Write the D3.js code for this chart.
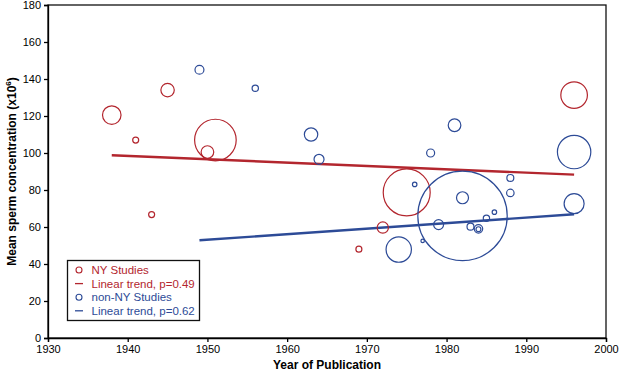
<!DOCTYPE html>
<html lang="en">
<head>
<meta charset="utf-8">
<title>Sperm concentration by year</title>
<script src="https://cdn.jsdelivr.net/npm/d3@7"></script>
<style>
    body { margin: 0; background: #fff; }
    svg { font-family: "Liberation Sans", Arial, sans-serif; }
    .axis text { font-size: 11px; fill: #000; }
    .axis path, .axis line { stroke: #000; stroke-width: 1.3; }
    .lbl { font-size: 12px; font-weight: bold; }
    .leg { font-size: 11.5px; }
</style>
</head>
<body>
<div id="chart"></div>
<script>
    // NY studies: year, mean concentration, relative study size
    var nyYears  = [1938, 1941, 1943, 1945, 1950, 1951, 1969, 1972, 1975, 1996];
    var nyValues = [120.5, 107, 66.7, 134, 100.5, 107, 48, 59.7, 78.7, 131.3];
    var nySizes  = [86, 9, 9, 45, 40, 433, 9, 32, 552, 177];

    // non-NY studies
    var otherYears  = [1949, 1956, 1963, 1964, 1974, 1976, 1977, 1978, 1979, 1981, 1982, 1982,
                       1983, 1984, 1984, 1985, 1986, 1988, 1988, 1996, 1996];
    var otherValues = [145, 135, 110, 96.6, 47.8, 83, 52.5, 100, 61.3, 115, 75.8, 66,
                       60.2, 59, 58.8, 64.7, 68, 78.4, 86.5, 100.5, 72.6];
    var otherSizes  = [20, 10, 45, 25, 161, 5, 3, 16, 25, 40, 36, 2000,
                       12, 18, 6, 10, 5, 14, 12, 279, 100];

    // linear trend end points
    var nyTrend = [[1938, 98.8], [1996, 88.3]];
    var otherTrend = [[1949, 52.8], [1996, 66.9]];

    var xTicks = [1930, 1940, 1950, 1960, 1970, 1980, 1990, 2000];
    var yTicks = [0, 20, 40, 60, 80, 100, 120, 140, 160, 180];

    var red = "#b3262e", blue = "#2d4b97";

    var W = 619, H = 374;
    var margin = {left: 48, right: 13, top: 5, bottom: 36};
    var w = W - margin.left - margin.right;
    var h = H - margin.top - margin.bottom;

    var svg = d3.select("#chart").append("svg")
        .attr("width", W).attr("height", H);
    var g = svg.append("g")
        .attr("transform", "translate(" + margin.left + "," + margin.top + ")");

    var x = d3.scaleLinear().domain([1930, 2000]).range([0, w]);
    var y = d3.scaleLinear().domain([0, 180]).range([h, 0]);
    var r = d3.scaleSqrt().domain([0, 2000]).range([0, 44.7]);

    var ny = nyYears.map(function(d, i) { return {year: d, value: nyValues[i], n: nySizes[i]}; });
    var other = otherYears.map(function(d, i) { return {year: d, value: otherValues[i], n: otherSizes[i]}; });

    // frame
    g.append("rect")
        .attr("width", w).attr("height", h)
        .attr("fill", "none").attr("stroke", "#111").attr("stroke-width", 1.3);

    g.append("g").attr("class", "axis")
        .attr("transform", "translate(0," + h + ")")
        .call(d3.axisBottom(x).tickValues(xTicks).tickFormat(d3.format("d")).tickSizeOuter(0).tickSize(4));
    g.append("g").attr("class", "axis")
        .call(d3.axisLeft(y).tickValues(yTicks).tickSizeOuter(0).tickSize(4));

    var line = d3.line()
        .x(function(d) { return x(d[0]); })
        .y(function(d) { return y(d[1]); });

    g.append("path").datum(nyTrend).attr("d", line)
        .attr("stroke", red).attr("stroke-width", 2.4).attr("fill", "none");
    g.append("path").datum(otherTrend).attr("d", line)
        .attr("stroke", blue).attr("stroke-width", 2.4).attr("fill", "none");

    function bubbles(data, color) {
        g.append("g").selectAll("circle")
            .data(data)
            .enter()
            .append("circle")
                .attr("cx", function(d) { return x(d.year); })
                .attr("cy", function(d) { return y(d.value); })
                .attr("r", function(d) { return r(d.n); })
                .attr("fill", "none")
                .attr("stroke", color)
                .attr("stroke-width", 1.2);
    }
    bubbles(ny, red);
    bubbles(other, blue);

    // axis titles
    svg.append("text").attr("class", "lbl")
        .attr("x", margin.left + w / 2).attr("y", 369)
        .attr("text-anchor", "middle")
        .text("Year of Publication");

    var yl = svg.append("text").attr("class", "lbl")
        .attr("transform", "translate(16," + (margin.top + h / 2) + ") rotate(-90)")
        .attr("text-anchor", "middle");
    yl.append("tspan").text("Mean sperm concentration (x10");
    yl.append("tspan").attr("font-size", "8px").attr("dy", -5).text("6");
    yl.append("tspan").attr("dy", 5).text(")");

    // legend
    var legend = [
        {label: "NY Studies", color: red, type: "circle"},
        {label: "Linear trend, p=0.49", color: red, type: "line"},
        {label: "non-NY Studies", color: blue, type: "circle"},
        {label: "Linear trend, p=0.62", color: blue, type: "line"}
    ];
    var lg = svg.append("g").attr("transform", "translate(67.5,260.5)");
    lg.append("rect").attr("width", 132).attr("height", 60)
        .attr("fill", "#fff").attr("stroke", "#111").attr("stroke-width", 1.3);
    var row = lg.selectAll(".row").data(legend).enter().append("g")
        .attr("transform", function(d, i) { return "translate(0," + (9.5 + i * 13.6) + ")"; });
    row.filter(function(d) { return d.type == "circle"; }).append("circle")
        .attr("cx", 11.5).attr("r", 3).attr("fill", "none")
        .attr("stroke", function(d) { return d.color; }).attr("stroke-width", 1.1);
    row.filter(function(d) { return d.type == "line"; }).append("line")
        .attr("x1", 7.5).attr("x2", 15.5)
        .attr("stroke", function(d) { return d.color; }).attr("stroke-width", 1.3);
    row.append("text").attr("class", "leg")
        .attr("x", 24).attr("dy", "0.36em")
        .attr("fill", function(d) { return d.color; })
        .text(function(d) { return d.label; });
</script>
</body>
</html>
